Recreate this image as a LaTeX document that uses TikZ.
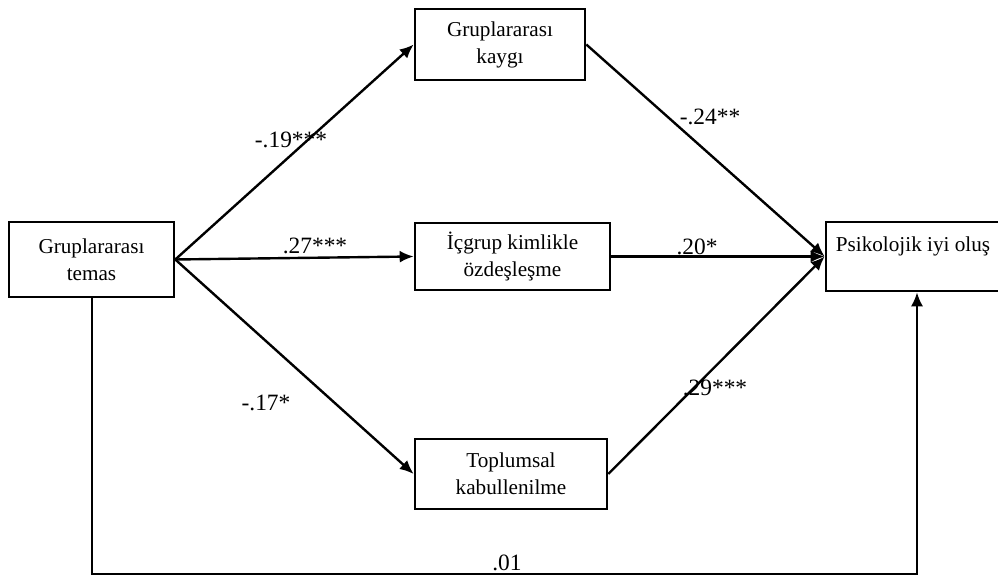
\documentclass[tikz,border=0pt]{standalone}
\usepackage{fontspec}
\setmainfont{Liberation Serif}
\usetikzlibrary{arrows.meta}

\tikzset{
  box/.style={draw, line width=1.3pt, rectangle, inner sep=0pt, align=center,
    font=\fontsize{10.6}{13.5}\selectfont},
  lbl/.style={inner sep=0pt, font=\fontsize{11.7}{13}\selectfont},
  path/.style={line width=1.2pt, -{Latex[length=7pt,width=6pt]}}
}

\begin{document}
\begin{tikzpicture}[x=0.5pt, y=-0.5pt]
  \useasboundingbox (0,0) rectangle (998,576);

  \node (temas) [box, minimum width=82.5pt, minimum height=37.5pt] at (91.5,259.5) {Gruplararası\\temas};
  \node (kaygi) [box, minimum width=85pt, minimum height=35.5pt] at (500,44.5) {Gruplararası\\kaygı};
  \node (icgrup) [box, minimum width=97.5pt, minimum height=33.5pt] at (512.5,256.5) {İçgrup kimlikle\\özdeşleşme};
  \node (kabul) [box, minimum width=96pt, minimum height=35pt] at (511,474) {Toplumsal\\kabullenilme};
  \node (iyi) [box, minimum width=87pt, minimum height=34.5pt, text height=7.5pt, text depth=12.3pt] at (913,256.5) {Psikolojik iyi oluş};

  \draw [path] (temas.east) -- (kaygi.west);
  \draw [path] (temas.east) -- (icgrup.west);
  \draw [path] (temas.east) -- (kabul.west);

  \draw [path] (kaygi.east) -- (iyi.west);
  \draw [path] (icgrup.east) -- (iyi.west);
  \draw [path] (kabul.east) -- (iyi.west);

  \coordinate (br) at (917,574);
  \draw [path, line width=1pt] (temas.south) |- (br) -- (br |- iyi.south);

  \node (l19) [lbl] at (291,140) {-.19***};
  \node (l27) [lbl] at (315,246) {.27***};
  \node (l17) [lbl] at (266,403) {-.17*};
  \node (l24) [lbl] at (710,117) {-.24**};
  \node (l20) [lbl] at (697,247) {.20*};
  \node (l29) [lbl] at (715,388) {.29***};
  \node (l01) [lbl] at (507,563) {.01};
\end{tikzpicture}
\end{document}
